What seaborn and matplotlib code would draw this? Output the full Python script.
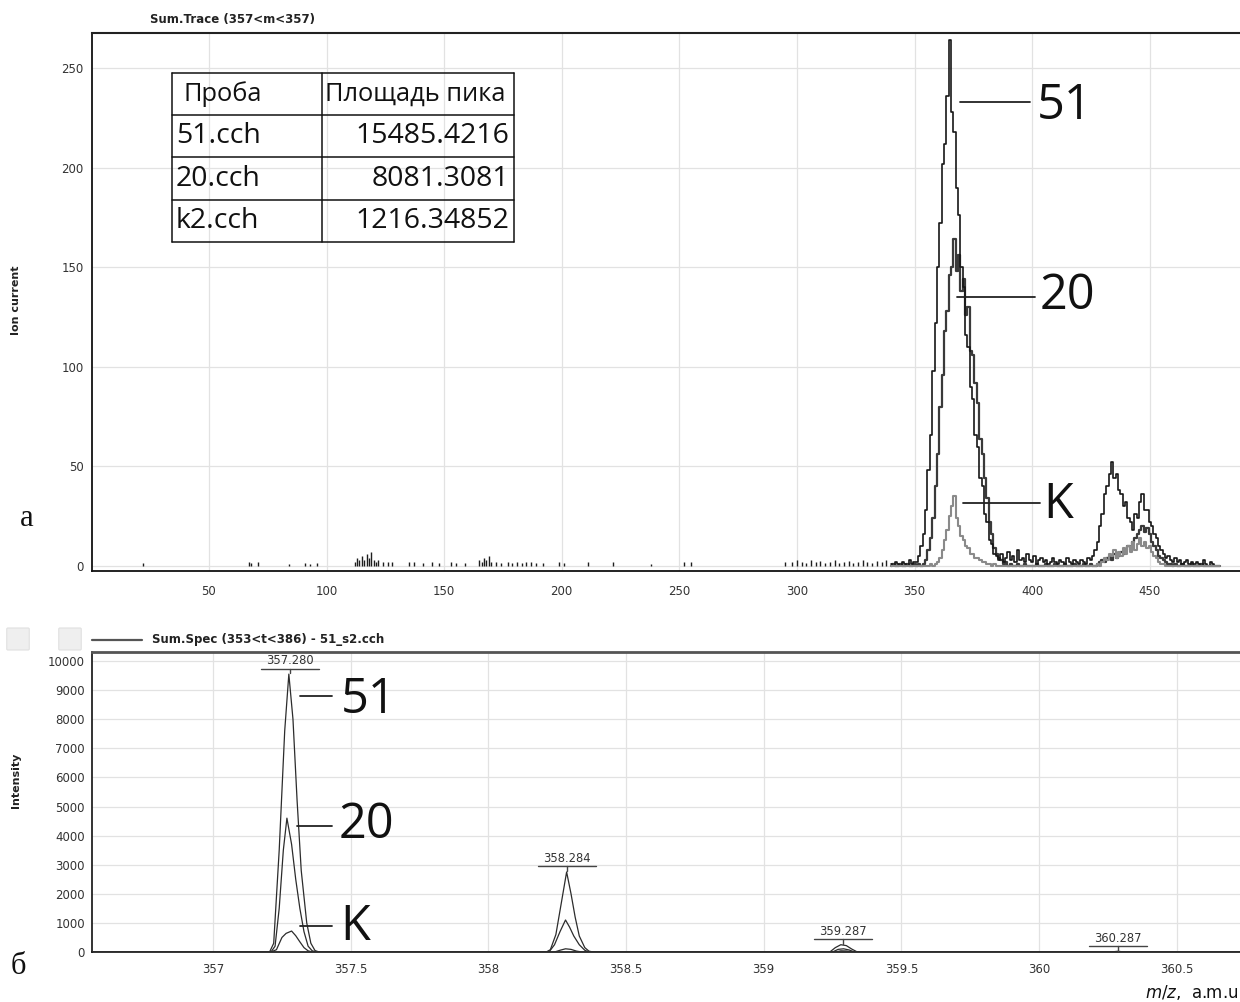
import numpy as np
import pandas as pd
import matplotlib
matplotlib.use("Agg")
import matplotlib.pyplot as plt
import seaborn as sns
from matplotlib.ticker import MultipleLocator
from matplotlib.patches import FancyBboxPatch

# ---------------- data: chromatogram (top, "а") ----------------
trace_start = 340  # first time value of the trace lists, step 1
trace_51 = [1, 0, 2, 1, 0, 2, 1, 0, 3, 1,
            2, 2, 5, 10, 16, 28, 48, 66, 98, 122,
            150, 172, 202, 212, 236, 264, 228, 218, 190, 176,
            150, 140, 116, 110, 90, 84, 66, 60, 44, 40,
            26, 22, 13, 11, 6, 5, 3, 6, 2, 4,
            7, 3, 5, 2, 8, 3, 4, 2, 6, 3,
            2, 5, 1, 3, 4, 2, 3, 1, 2, 4,
            2, 1, 3, 2, 1, 4, 2, 1, 3, 2,
            1, 3, 2, 1, 4, 3, 5, 8, 12, 20,
            26, 36, 40, 46, 52, 44, 46, 38, 36, 30,
            32, 24, 22, 18, 26, 24, 32, 36, 28, 28,
            22, 20, 16, 14, 10, 8, 6, 4, 5, 3,
            2, 4, 2, 3, 1, 2, 3, 1, 2, 1,
            2, 1, 0, 3, 1, 0, 2, 1, 0, 0, 0]
trace_20 = [0, 1, 0, 0, 1, 0, 0, 1, 0, 0,
            1, 0, 1, 0, 1, 3, 8, 14, 24, 40,
            56, 80, 96, 118, 128, 146, 150, 164, 148, 156,
            138, 144, 126, 130, 108, 106, 92, 82, 64, 56,
            44, 34, 22, 16, 9, 6, 4, 3, 1, 2,
            0, 1, 0, 0, 1, 0, 0, 1, 0, 0,
            0, 0, 1, 0, 0, 0, 1, 0, 0, 0,
            1, 0, 0, 0, 1, 0, 0, 0, 1, 0,
            0, 0, 1, 0, 0, 1, 0, 0, 1, 2,
            3, 2, 4, 5, 3, 6, 4, 5, 7, 6,
            8, 10, 9, 12, 14, 16, 18, 20, 17, 19,
            16, 12, 10, 8, 5, 4, 3, 2, 1, 1,
            0, 1, 0, 0, 1, 0, 0, 0, 1, 0,
            0, 0, 1, 0, 0, 0, 0, 0, 0, 0, 0]
trace_k = [0, 0, 0, 0, 0, 0, 0, 0, 0, 0,
           0, 0, 0, 0, 0, 0, 0, 1, 0, 1,
           2, 4, 8, 13, 18, 25, 30, 35, 24, 20,
           15, 13, 10, 9, 6, 6, 4, 4, 3, 2,
           2, 1, 1, 0, 1, 0, 0, 0, 0, 0,
           0, 0, 0, 0, 0, 0, 0, 0, 0, 0,
           0, 0, 0, 0, 0, 0, 0, 0, 0, 0,
           0, 0, 0, 0, 0, 0, 0, 0, 0, 0,
           0, 0, 0, 0, 0, 0, 0, 0, 1, 0,
           2, 4, 3, 6, 5, 8, 4, 7, 5, 9,
           6, 10, 7, 12, 8, 11, 14, 10, 12, 9,
           10, 7, 5, 4, 2, 1, 1, 0, 0, 0,
           0, 0, 0, 0, 0, 0, 0, 0, 0, 0,
           0, 0, 0, 0, 0, 0, 0, 0, 0, 0, 0]

# isolated noise spikes before the main peak
noise_x = [22, 67, 68, 71, 84, 91, 93, 96,
           112, 113, 114, 115, 116, 117, 118, 119, 120, 121, 122,
           124, 126, 128, 135, 137, 141, 145, 148, 153, 155, 159,
           165, 166, 167, 168, 169, 170,
           172, 174, 177, 179, 181, 183, 185, 187, 189, 192,
           199, 201, 211, 222, 238, 252, 255, 295,
           298, 300, 302, 304, 306, 308, 310, 312, 314, 316, 318,
           320, 322, 324, 326, 328, 330, 332, 334, 336, 338]
noise_h = [1.5, 2, 1.5, 2, 1, 1.5, 1, 1.5,
           2, 4, 3, 5, 3, 6, 4, 7, 3, 2, 3,
           2, 2, 2, 2, 2, 1.5, 2, 1.5, 2, 1.5, 1.5,
           3, 2, 4, 3, 5, 2,
           2, 1.5, 2, 1.5, 2, 1.5, 2, 2, 1.5, 1.5,
           2, 1.5, 2, 2, 1, 2, 2, 2,
           2, 3, 2, 1.5, 3, 2, 2.5, 1.5, 2, 3, 1.5,
           2, 2.5, 1.5, 2, 3, 2, 1.5, 2.5, 2, 3]

# table of peak areas
table_header = ["Проба", "Площадь пика"]
sample_names = ["51.cch", "20.cch", "k2.cch"]
peak_areas = ["15485.4216", "8081.3081", "1216.34852"]

# ---------------- data: mass spectrum (bottom, "б") ----------------
spec_x_51 = [356.56, 357.205, 357.22, 357.24, 357.26, 357.275, 357.29, 357.305, 357.32, 357.34, 357.355, 357.37, 357.385,
             358.21, 358.225, 358.245, 358.265, 358.284, 358.30, 358.315, 358.33, 358.35, 358.365, 358.38,
             359.24, 359.26, 359.28, 359.30, 359.32, 359.34,
             360.26, 360.287, 360.31, 360.73]
spec_i_51 = [0, 0, 300, 3500, 7600, 9550, 8000, 5200, 2800, 1000, 300, 50, 0,
             0, 80, 600, 1700, 2750, 2000, 1200, 550, 150, 30, 0,
             0, 150, 250, 220, 100, 0,
             0, 25, 0, 0]
spec_x_20 = [356.56, 357.21, 357.225, 357.24, 357.255, 357.268, 357.285, 357.30, 357.315, 357.33, 357.345, 357.36, 357.375,
             358.22, 358.24, 358.26, 358.28, 358.295, 358.31, 358.33, 358.35, 358.365,
             359.25, 359.27, 359.29, 359.31, 359.33, 360.73]
spec_i_20 = [0, 0, 200, 1500, 3500, 4600, 3700, 2500, 1500, 700, 200, 40, 0,
             0, 250, 700, 1100, 850, 550, 250, 60, 0,
             0, 90, 110, 70, 0, 0]
spec_x_k = [356.56, 357.21, 357.23, 357.25, 357.265, 357.285, 357.30, 357.315, 357.33, 357.345, 357.36,
            358.24, 358.26, 358.28, 358.30, 358.32, 358.34,
            359.26, 359.28, 359.30, 359.32, 360.73]
spec_i_k = [0, 0, 80, 500, 640, 720, 560, 350, 150, 40, 0,
            0, 60, 110, 90, 30, 0,
            0, 40, 35, 0, 0]
peak_mz = [357.280, 358.284, 359.287, 360.287]
peak_tops = [9550, 2750, 250, 0]
peak_labels = ["357.280", "358.284", "359.287", "360.287"]

# ---------------- style ----------------
sns.set_theme(style="white")
plt.rcParams["font.family"] = ["DejaVu Sans"]
plt.rcParams["mathtext.fontset"] = "dejavusans"

W, H = 1240, 1002
fig = plt.figure(figsize=(W / 100, H / 100), dpi=100)
fig.patch.set_facecolor("white")


def fx(px):
    return px / W


def fy(py):
    return 1 - py / H


GRID = "#e2e2e2"
TICKC = "#333333"

# ---------------- top chart ----------------
ax1 = fig.add_axes([fx(92), fy(571), fx(1240) - fx(92), fy(33) - fy(571)])
tx = np.arange(trace_start, trace_start + len(trace_51))
df_top = pd.DataFrame({"t": np.concatenate([tx, tx, tx]),
                       "I": np.concatenate([trace_51, trace_20, trace_k]),
                       "s": ["51"] * len(tx) + ["20"] * len(tx) + ["K"] * len(tx)})
top_styles = {"51": ("#161616", 1.2, 4), "20": ("#3a3a3a", 1.6, 3), "K": ("#8a8a8a", 1.5, 5)}
for name in ["20", "51", "K"]:
    col, lw, z = top_styles[name]
    sns.lineplot(data=df_top[df_top.s == name], x="t", y="I", ax=ax1, color=col,
                 lw=lw, estimator=None, sort=True, drawstyle="steps-mid", zorder=z)
ax1.vlines(noise_x, 0, noise_h, color="#1e1e1e", lw=1.0, zorder=4)

ax1.set_xlim(0.26, 488.4)
ax1.set_ylim(-2.5, 267.6)
ax1.xaxis.set_major_locator(MultipleLocator(50))
ax1.xaxis.set_minor_locator(MultipleLocator(10))
ax1.yaxis.set_major_locator(MultipleLocator(50))
ax1.yaxis.set_minor_locator(MultipleLocator(10))
ax1.grid(True, which="major", color=GRID, lw=0.9, zorder=0)
ax1.set_axisbelow(True)
ax1.tick_params(axis="x", which="both", direction="out", length=6, width=1, color="#222",
                labelsize=8.5, labelcolor=TICKC, pad=4)
ax1.tick_params(axis="y", which="major", direction="out", length=5, width=1, color="#222",
                labelsize=8.5, labelcolor=TICKC, pad=1)
ax1.tick_params(axis="y", which="minor", direction="out", length=3.5, width=0.9, color="#444")
for side in ["left", "bottom"]:
    ax1.spines[side].set_color("#111")
    ax1.spines[side].set_linewidth(1.3)
ax1.spines["top"].set_color("#222")
ax1.spines["top"].set_linewidth(1.5)
ax1.spines["right"].set_visible(False)
ax1.set_xlabel("")
ax1.set_ylabel("")

# callouts in the top chart
top_callouts = [("51", 369.3, 399.1, 232.9, 402.0, 230.9),
                ("20", 368.0, 401.2, 135.0, 403.3, 135.5),
                ("K", 370.6, 403.3, 31.6, 404.6, 30.6)]
for lab, x1, x2, yl, xt, yt in top_callouts:
    ax1.plot([x1, x2], [yl, yl], color="#222", lw=1.3, zorder=6)
    ax1.text(xt, yt, lab, fontsize=35, family="Open Sans", color="#111", ha="left", va="center", zorder=6)

# ---------------- table ----------------
axt = fig.add_axes([fx(172), fy(242), fx(514) - fx(172), fy(73) - fy(242)])
axt.set_xlim(0, 342)
axt.set_ylim(0, 4)
axt.axis("off")
for yy in [0, 1, 2, 3, 4]:
    axt.plot([0, 342], [yy, yy], color="#111", lw=1.1, clip_on=False)
for xx in [0, 150, 342]:
    axt.plot([xx, xx], [0, 4], color="#111", lw=1.1, clip_on=False)
hfont = dict(fontsize=18.3, family="Open Sans", color="#111", va="center")
tfont = dict(fontsize=20.5, family="Open Sans", color="#111", va="center")
axt.text(11, 3.5, table_header[0], ha="left", **hfont)
axt.text(153, 3.5, table_header[1], ha="left", **hfont)
for i, (nm, ar) in enumerate(zip(sample_names, peak_areas)):
    yc = 2.5 - i
    axt.text(4, yc, nm, ha="left", **tfont)
    axt.text(337, yc, ar, ha="right", **tfont)

# ---------------- bottom chart ----------------
ax2 = fig.add_axes([fx(92), fy(952), fx(1240) - fx(92), fy(652) - fy(952)])
spec_series = [("51", spec_x_51, spec_i_51), ("20", spec_x_20, spec_i_20), ("K", spec_x_k, spec_i_k)]
for name, xs, ys in spec_series:
    dfs = pd.DataFrame({"mz": xs, "I": ys})
    sns.lineplot(data=dfs, x="mz", y="I", ax=ax2, color="#2c2c2c", lw=0.9,
                 estimator=None, sort=False, zorder=4)

ax2.set_xlim(356.56, 360.73)
ax2.set_ylim(0, 10310)
ax2.xaxis.set_major_locator(MultipleLocator(0.5))
ax2.xaxis.set_minor_locator(MultipleLocator(0.1))
ax2.yaxis.set_major_locator(MultipleLocator(1000))
ax2.yaxis.set_minor_locator(MultipleLocator(200))
ax2.xaxis.set_major_formatter(plt.FuncFormatter(lambda v, p: f"{v:g}"))
ax2.grid(True, which="major", color=GRID, lw=0.9, zorder=0)
ax2.set_axisbelow(True)
ax2.tick_params(axis="x", which="both", direction="out", length=6, width=1, color="#222",
                labelsize=8.5, labelcolor=TICKC, pad=2)
ax2.tick_params(axis="y", which="major", direction="out", length=4, width=1, color="#222",
                labelsize=8.5, labelcolor=TICKC, pad=1)
ax2.tick_params(axis="y", which="minor", direction="out", length=3, width=0.8, color="#444")
for side in ["left", "bottom"]:
    ax2.spines[side].set_color("#111")
    ax2.spines[side].set_linewidth(1.2)
ax2.spines["top"].set_color("#555")
ax2.spines["top"].set_linewidth(2.0)
ax2.spines["right"].set_visible(False)
ax2.set_xlabel("")
ax2.set_ylabel("")

# peak labels (underlined) with small ticks
for mz, top, lab in zip(peak_mz, peak_tops, peak_labels):
    yu = top + 190
    ax2.plot([mz, mz], [top + 30, yu], color="#444", lw=1.0, zorder=5)
    ax2.plot([mz - 0.105, mz + 0.105], [yu, yu], color="#444", lw=1.0, zorder=5)
    ax2.text(mz, yu + 40, lab, fontsize=8.3, color="#333", ha="center", va="bottom", zorder=5)

bottom_callouts = [("51", 357.316, 357.433, 8797, 357.462, 8660),
                   ("20", 357.305, 357.433, 4330, 357.455, 4364),
                   ("K", 357.316, 357.433, 893, 357.462, 859)]
for lab, x1, x2, yl, xt, yt in bottom_callouts:
    ax2.plot([x1, x2], [yl, yl], color="#222", lw=1.3, zorder=6)
    ax2.text(xt, yt, lab, fontsize=35, family="Open Sans", color="#111", ha="left", va="center", zorder=6)

# ---------------- titles / labels ----------------
fig.text(fx(150), fy(20), "Sum.Trace (357<m<357)", fontsize=8.5, fontweight="bold",
         color="#222", ha="left", va="center")
fig.text(fx(16), fy(300), "Ion current", fontsize=8, fontweight="bold", color="#222",
         rotation=90, ha="center", va="center")
fig.text(fx(16), fy(780), "Intensity", fontsize=8, fontweight="bold", color="#222",
         rotation=90, ha="center", va="center")
fig.text(fx(27), fy(518), "а", fontsize=22, family="Liberation Serif", color="#111",
         ha="center", va="center")
fig.text(fx(18), fy(966), "б", fontsize=22, family="Liberation Serif", color="#111",
         ha="center", va="center")
fig.text(fx(1238), fy(992), r"$m/z$,  a.m.u", fontsize=12, color="#111",
         ha="right", va="center")

# bottom chart header: toolbar icons and legend entry
for x0 in [8, 60]:
    fig.patches.append(FancyBboxPatch((fx(x0), fy(649)), fx(20), fy(629) - fy(649),
                                      boxstyle="round,pad=0.001", transform=fig.transFigure,
                                      facecolor="#efefef", edgecolor="#e0e0e0", lw=0.8))
fig.lines.append(plt.Line2D([fx(92), fx(142)], [fy(640), fy(640)], transform=fig.transFigure,
                            color="#555", lw=1.6))
fig.text(fx(152), fy(640), "Sum.Spec (353<t<386) - 51_s2.cch", fontsize=8.5, fontweight="bold",
         color="#222", ha="left", va="center")

fig.savefig("out.png", dpi=100, facecolor="white")
